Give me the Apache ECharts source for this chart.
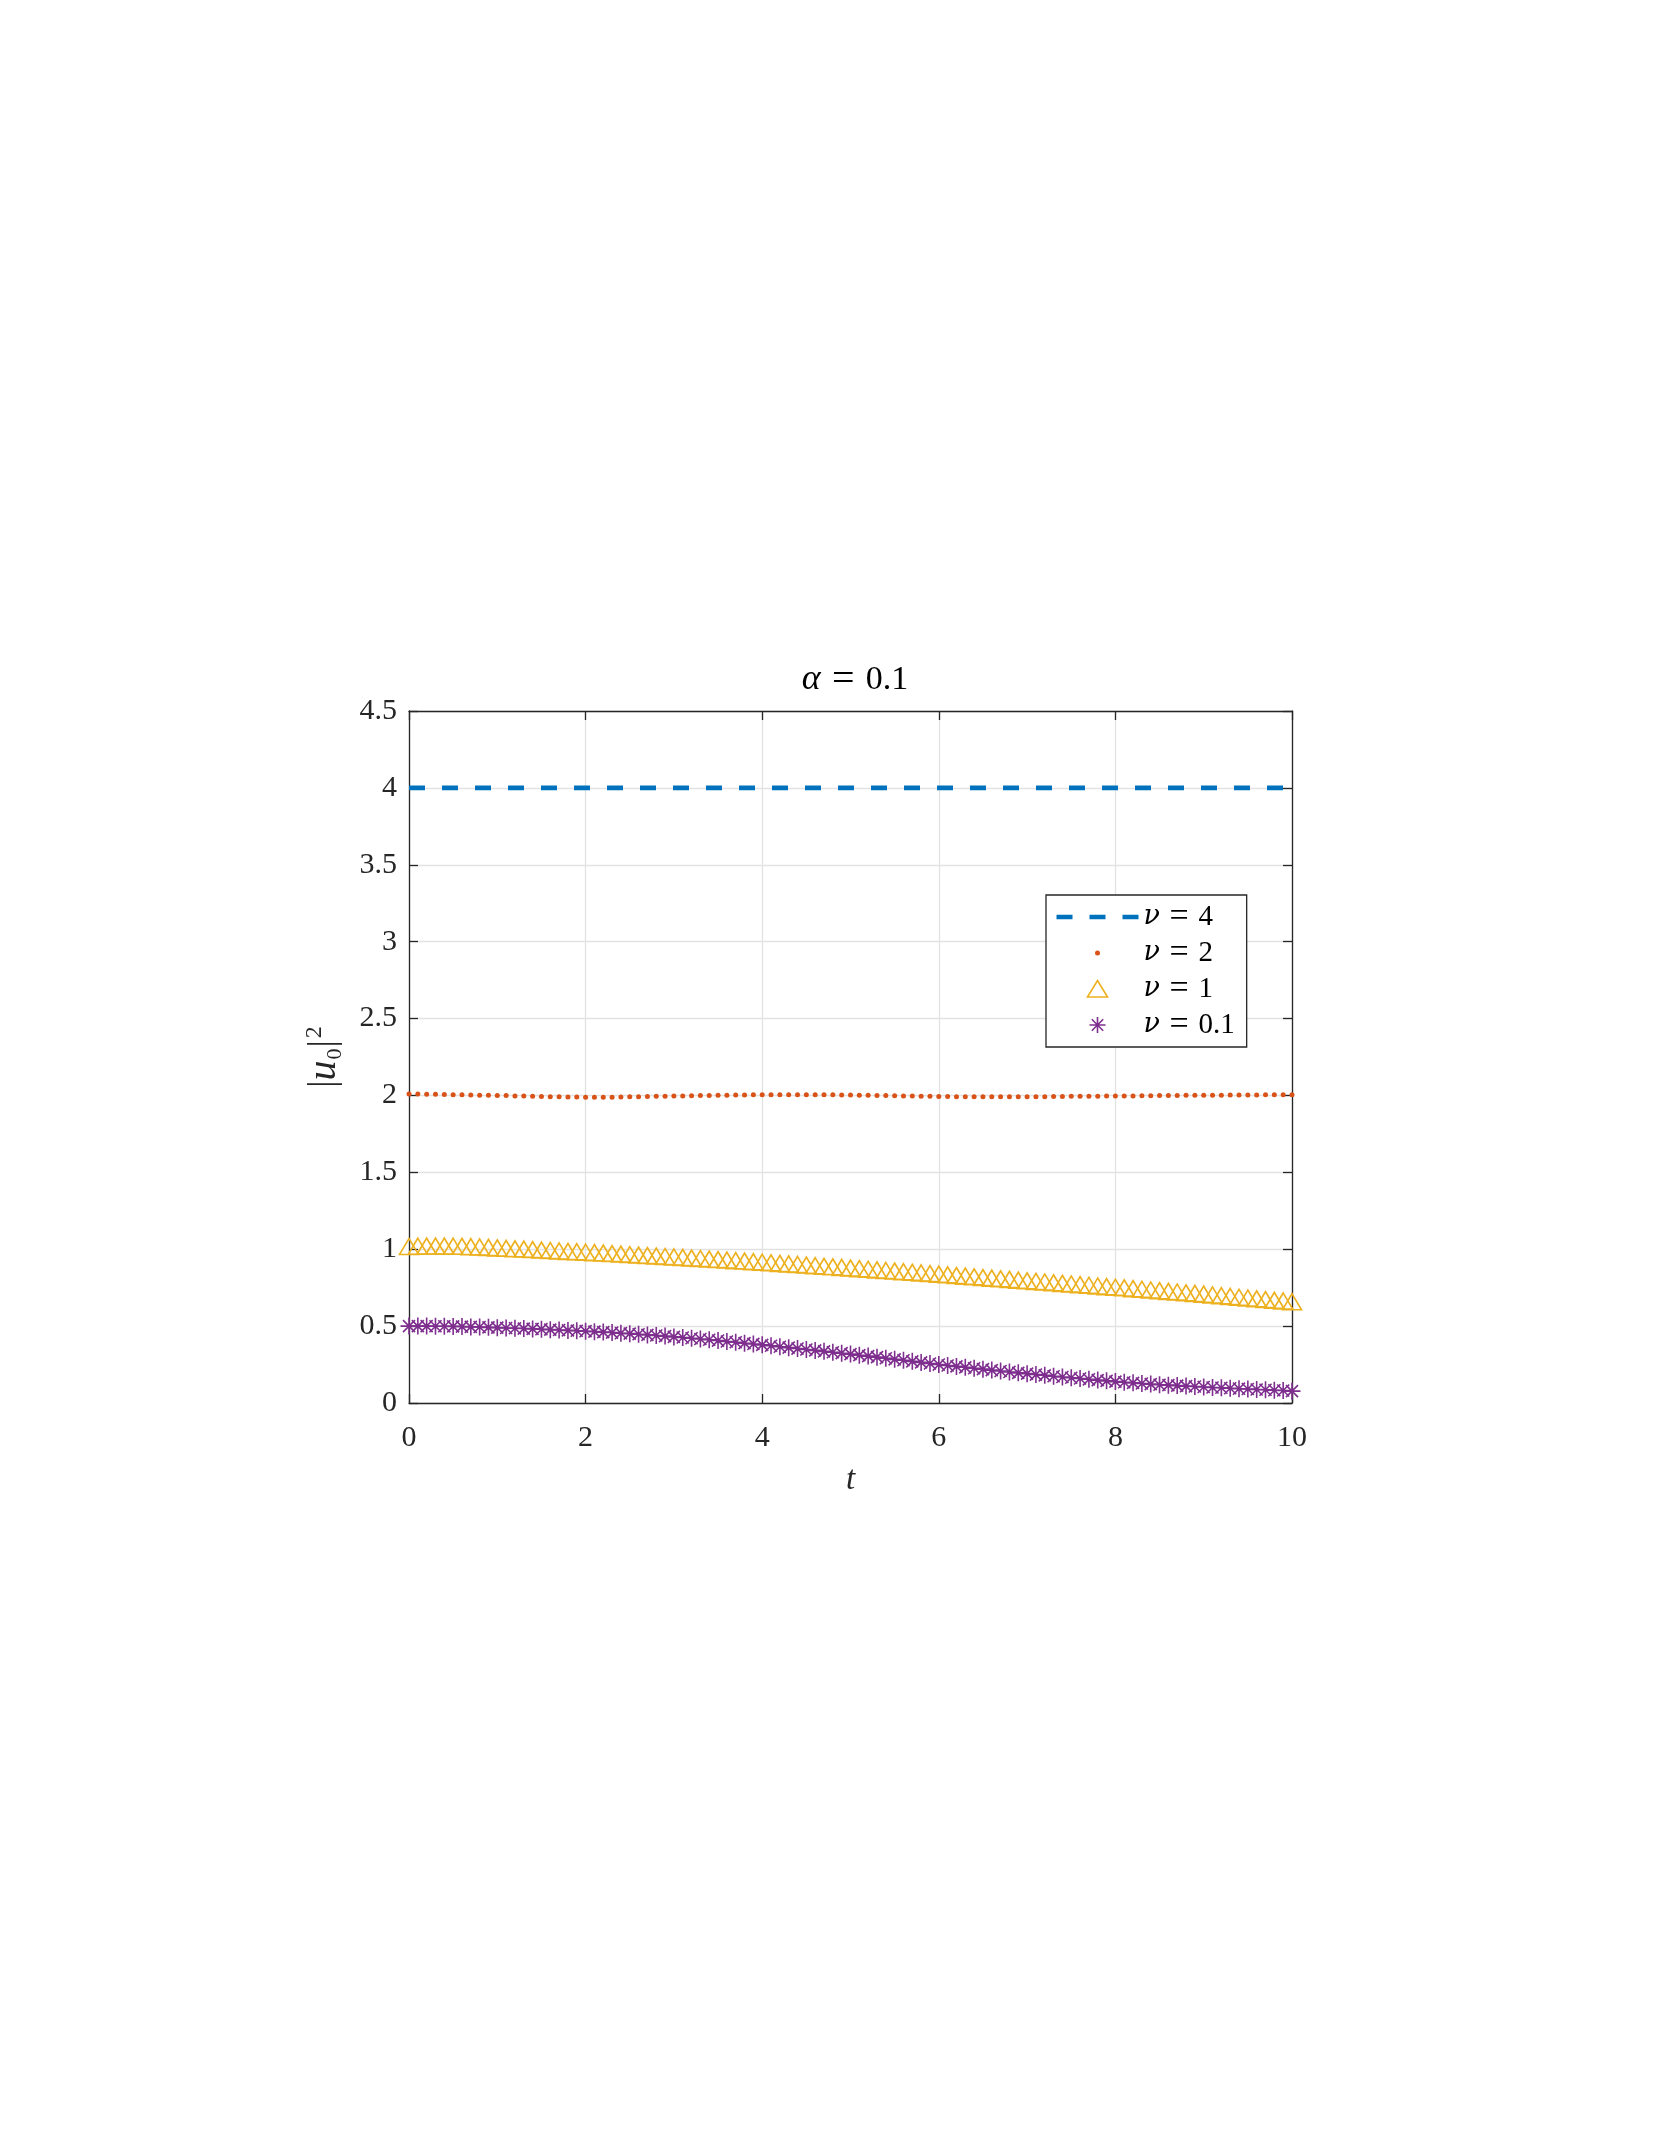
<!DOCTYPE html>
<html>
<head>
<meta charset="utf-8">
<script src="https://cdn.jsdelivr.net/npm/echarts@6/dist/echarts.min.js"></script>
<style>
  html, body { margin: 0; padding: 0; background: #fff; }
  #chart { width: 1661px; height: 2149px; }
</style>
</head>
<body>
<div id="chart"></div>
<script>
// sample times (t = 0 : 0.1 : 10)
const tGrid = [
  0, 0.1, 0.2, 0.3, 0.4, 0.5, 0.6, 0.7, 0.8, 0.9, 1,
  1.1, 1.2, 1.3, 1.4, 1.5, 1.6, 1.7, 1.8, 1.9, 2,
  2.1, 2.2, 2.3, 2.4, 2.5, 2.6, 2.7, 2.8, 2.9, 3,
  3.1, 3.2, 3.3, 3.4, 3.5, 3.6, 3.7, 3.8, 3.9, 4,
  4.1, 4.2, 4.3, 4.4, 4.5, 4.6, 4.7, 4.8, 4.9, 5,
  5.1, 5.2, 5.3, 5.4, 5.5, 5.6, 5.7, 5.8, 5.9, 6,
  6.1, 6.2, 6.3, 6.4, 6.5, 6.6, 6.7, 6.8, 6.9, 7,
  7.1, 7.2, 7.3, 7.4, 7.5, 7.6, 7.7, 7.8, 7.9, 8,
  8.1, 8.2, 8.3, 8.4, 8.5, 8.6, 8.7, 8.8, 8.9, 9,
  9.1, 9.2, 9.3, 9.4, 9.5, 9.6, 9.7, 9.8, 9.9, 10
]

// nu = 4 : flat line
const tLine = [0, 10]
const nu4 = [4, 4]

// nu = 2
const nu2 = [
  2.009, 2.009, 2.008, 2.007, 2.006, 2.005, 2.004, 2.003, 2.002, 2.001, 2.000,
  1.999, 1.997, 1.996, 1.995, 1.993, 1.992, 1.991, 1.990, 1.990, 1.989,
  1.989, 1.989, 1.989, 1.990, 1.991, 1.992, 1.993, 1.994, 1.995, 1.996,
  1.997, 1.998, 1.999, 2.000, 2.001, 2.002, 2.003, 2.003, 2.004, 2.004,
  2.005, 2.005, 2.005, 2.005, 2.005, 2.005, 2.004, 2.004, 2.003, 2.003,
  2.002, 2.001, 2.000, 1.999, 1.998, 1.997, 1.996, 1.995, 1.994, 1.993,
  1.993, 1.992, 1.992, 1.991, 1.991, 1.991, 1.991, 1.991, 1.991, 1.991,
  1.992, 1.992, 1.993, 1.993, 1.994, 1.994, 1.995, 1.995, 1.996, 1.996,
  1.997, 1.997, 1.998, 1.998, 1.999, 1.999, 2.000, 2.001, 2.001, 2.002,
  2.002, 2.002, 2.003, 2.003, 2.003, 2.003, 2.004, 2.004, 2.004, 2.004
]

// nu = 1
const nu1 = [
  1.000, 1.002, 1.003, 1.003, 1.003, 1.002, 1.001, 0.999, 0.997, 0.994, 0.991,
  0.988, 0.985, 0.983, 0.980, 0.977, 0.974, 0.971, 0.968, 0.966, 0.963,
  0.960, 0.957, 0.954, 0.951, 0.948, 0.944, 0.941, 0.938, 0.935, 0.932,
  0.929, 0.925, 0.922, 0.918, 0.915, 0.912, 0.908, 0.905, 0.901, 0.898,
  0.894, 0.890, 0.887, 0.883, 0.879, 0.875, 0.871, 0.868, 0.864, 0.860,
  0.856, 0.852, 0.848, 0.844, 0.840, 0.836, 0.832, 0.828, 0.824, 0.820,
  0.816, 0.811, 0.807, 0.803, 0.798, 0.794, 0.790, 0.786, 0.781, 0.777,
  0.773, 0.769, 0.764, 0.760, 0.756, 0.752, 0.748, 0.743, 0.739, 0.735,
  0.731, 0.726, 0.722, 0.717, 0.713, 0.708, 0.704, 0.699, 0.695, 0.690,
  0.685, 0.680, 0.675, 0.670, 0.665, 0.660, 0.655, 0.650, 0.646, 0.641
]

// nu = 0.1
const nu01 = [
  0.500, 0.500, 0.500, 0.499, 0.499, 0.498, 0.497, 0.495, 0.494, 0.492, 0.490,
  0.488, 0.486, 0.484, 0.482, 0.480, 0.477, 0.475, 0.472, 0.470, 0.467,
  0.464, 0.461, 0.458, 0.454, 0.451, 0.447, 0.443, 0.439, 0.435, 0.430,
  0.426, 0.421, 0.416, 0.411, 0.406, 0.400, 0.395, 0.389, 0.384, 0.378,
  0.372, 0.366, 0.360, 0.354, 0.348, 0.342, 0.336, 0.330, 0.324, 0.318,
  0.311, 0.305, 0.298, 0.291, 0.284, 0.278, 0.271, 0.264, 0.257, 0.250,
  0.244, 0.238, 0.232, 0.226, 0.220, 0.214, 0.208, 0.202, 0.196, 0.191,
  0.185, 0.180, 0.174, 0.169, 0.164, 0.159, 0.154, 0.149, 0.144, 0.139,
  0.135, 0.131, 0.127, 0.123, 0.119, 0.116, 0.113, 0.110, 0.107, 0.104,
  0.101, 0.099, 0.096, 0.093, 0.091, 0.088, 0.086, 0.083, 0.081, 0.077
]

const seriesNames = ['nu4', 'nu2', 'nu1', 'nu01']
const legendLabels = [
  '{g|ν}\u2004{e|=}\u20044',
  '{g|ν}\u2004{e|=}\u20042',
  '{g|ν}\u2004{e|=}\u20041',
  '{g|ν}\u2004{e|=}\u20040.1'
]

const FONT = 'Liberation Serif'
const GREEK = 'DejaVu Serif'
const INK = '#262626'

const pairs = (xs, ys) => ys.map((y, i) => [xs[i], y])

const asterisk = 'path://M0,-1L0,1M-1,0L1,0M-0.707,-0.707L0.707,0.707M-0.707,0.707L0.707,-0.707'

const chart = echarts.init(document.getElementById('chart'), null, {renderer: 'canvas'})

chart.setOption({
  animation: false,
  backgroundColor: '#fff',
  title: {
    text: '{i|α}\u2004{e|=}\u20040.1',
    left: 850,
    top: 655,
    textAlign: 'center',
    textStyle: {
      fontFamily: FONT, fontSize: 34, fontWeight: 'normal', color: '#000', lineHeight: 40,
      rich: {
        i: {fontFamily: FONT, fontSize: 36, fontStyle: 'italic', color: '#000', lineHeight: 40},
        e: {fontFamily: FONT, fontSize: 40, color: '#000', lineHeight: 40}
      }
    }
  },
  grid: {left: 409, right: 369, top: 711, bottom: 746, containLabel: false},
  legend: {
    orient: 'vertical',
    left: 1046,
    top: 895,
    padding: [5, 12, 5, 8],
    itemWidth: 82,
    itemHeight: 18,
    itemGap: 2,
    backgroundColor: '#fff',
    borderColor: INK,
    borderWidth: 1.3,
    borderRadius: 0,
    selectedMode: false,
    textStyle: {
      fontFamily: FONT, fontSize: 29, color: '#000', lineHeight: 31,
      rich: {
        g: {fontFamily: GREEK, fontSize: 27, fontStyle: 'italic', color: '#000', lineHeight: 31},
        e: {fontFamily: FONT, fontSize: 34, color: '#000', lineHeight: 31}
      }
    },
    formatter: name => legendLabels[seriesNames.indexOf(name)],
    data: [
      {name: 'nu4',
        itemStyle: {color: 'rgba(0,0,0,0)', borderWidth: 0},
        lineStyle: {color: '#0072BD', width: 4.5, type: [16, 17]}},
      {name: 'nu2', icon: 'path://M-41,-9M41,9M-2.5,0A2.5,2.5,0,1,1,2.5,0A2.5,2.5,0,1,1,-2.5,0Z',
        itemStyle: {color: '#D95319', borderWidth: 0}},
      {name: 'nu1', icon: 'path://M-41,-9M41,9M0,-8.5L10,8L-10,8Z',
        itemStyle: {color: 'none', borderColor: '#EDB120', borderWidth: 1.6}},
      {name: 'nu01', icon: 'path://M-41,-9M41,9M0,-8L0,8M-8,0L8,0M-5.7,-5.7L5.7,5.7M-5.7,5.7L5.7,-5.7',
        itemStyle: {color: 'none', borderColor: '#7E2F8E', borderWidth: 1.6}}
    ]
  },
  xAxis: [
    {
      type: 'value', min: 0, max: 10, interval: 2, position: 'bottom',
      name: '{i|t}', nameLocation: 'middle', nameGap: 61,
      nameTextStyle: {
        fontFamily: FONT, fontSize: 33, color: INK,
        rich: {i: {fontFamily: FONT, fontSize: 33, fontStyle: 'italic', color: INK}}
      },
      axisLine: {show: true, onZero: false, lineStyle: {color: INK, width: 1.3}},
      axisTick: {show: true, inside: true, length: 9, lineStyle: {color: INK, width: 1.3}},
      axisLabel: {fontFamily: FONT, fontSize: 30, color: INK, margin: 20},
      splitLine: {show: true, lineStyle: {color: '#e2e2e2', width: 1.3}}
    },
    {
      type: 'value', min: 0, max: 10, interval: 2, position: 'top',
      axisLine: {show: true, onZero: false, lineStyle: {color: INK, width: 1.3}},
      axisTick: {show: true, inside: true, length: 9, lineStyle: {color: INK, width: 1.3}},
      axisLabel: {show: false},
      splitLine: {show: false}
    }
  ],
  yAxis: [
    {
      type: 'value', min: 0, max: 4.5, interval: 0.5, position: 'left',
      name: '|{i|u}₀|{s|2}', nameLocation: 'middle', nameRotate: 90, nameGap: 64,
      nameTextStyle: {
        fontFamily: FONT, fontSize: 37, color: INK,
        rich: {
          i: {fontFamily: FONT, fontSize: 40, fontStyle: 'italic', color: INK},
          s: {fontFamily: FONT, fontSize: 24, color: INK, verticalAlign: 'top', padding: [0, 0, 18, 2]}
        }
      },
      axisLine: {show: true, onZero: false, lineStyle: {color: INK, width: 1.3}},
      axisTick: {show: true, inside: true, length: 9, lineStyle: {color: INK, width: 1.3}},
      axisLabel: {fontFamily: FONT, fontSize: 30, color: INK, margin: 12},
      splitLine: {show: true, lineStyle: {color: '#e2e2e2', width: 1.3}}
    },
    {
      type: 'value', min: 0, max: 4.5, interval: 0.5, position: 'right',
      axisLine: {show: true, onZero: false, lineStyle: {color: INK, width: 1.3}},
      axisTick: {show: true, inside: true, length: 9, lineStyle: {color: INK, width: 1.3}},
      axisLabel: {show: false},
      splitLine: {show: false}
    }
  ],
  series: [
    {
      name: 'nu4',
      type: 'line',
      data: pairs(tLine, nu4),
      symbol: 'none',
      color: '#0072BD',
      lineStyle: {color: '#0072BD', width: 4.8, type: [16, 17]},
      z: 5
    },
    {
      name: 'nu2',
      type: 'scatter',
      data: pairs(tGrid, nu2),
      symbol: 'circle',
      symbolSize: 5,
      itemStyle: {color: '#D95319', opacity: 1},
      clip: false
    },
    {
      name: 'nu1',
      type: 'scatter',
      data: pairs(tGrid, nu1),
      symbol: 'triangle',
      symbolSize: [19, 16],
      symbolOffset: [0, -2.7],
      itemStyle: {color: 'none', borderColor: '#EDB120', borderWidth: 1.6, opacity: 1},
      clip: false
    },
    {
      name: 'nu01',
      type: 'scatter',
      data: pairs(tGrid, nu01),
      symbol: asterisk,
      symbolSize: 17,
      itemStyle: {color: 'none', borderColor: '#7E2F8E', borderWidth: 1.6, opacity: 1},
      clip: false
    }
  ]
})
</script>
</body>
</html>
